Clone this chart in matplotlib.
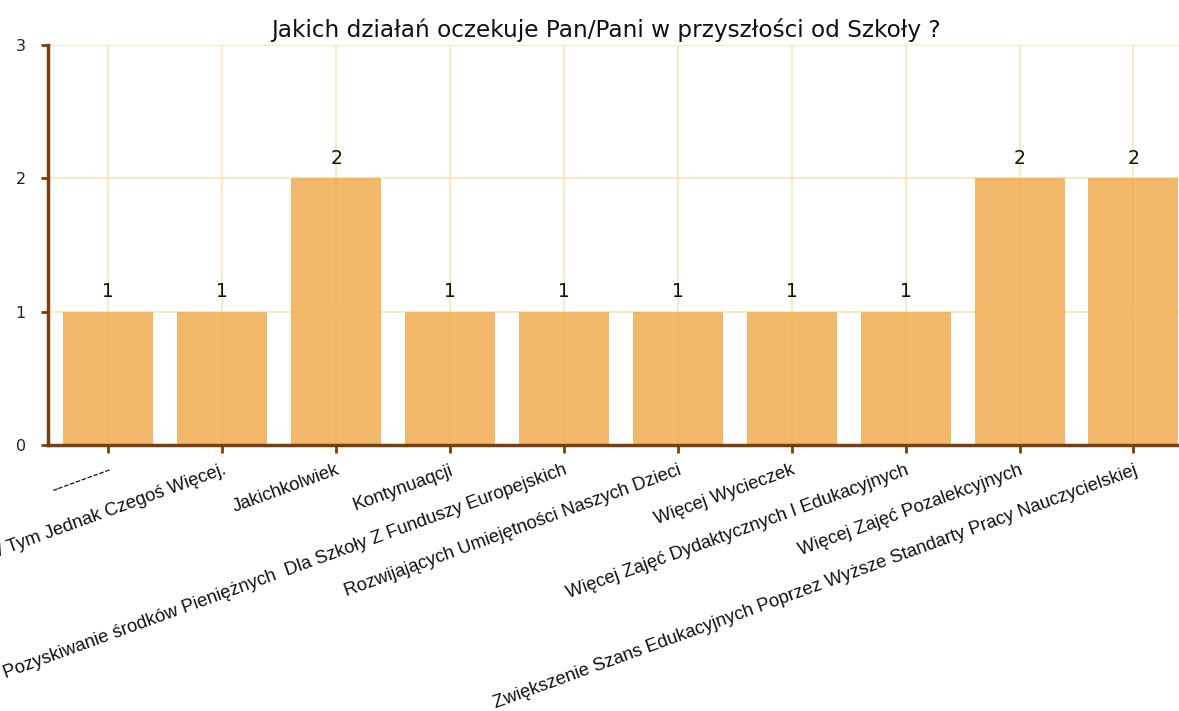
import matplotlib
matplotlib.use("Agg")
import matplotlib.pyplot as plt

categories = [
    "----------",
    "W Tym Jednak Czegoś Więcej.",
    "Jakichkolwiek",
    "Kontynuaqcji",
    "Pozyskiwanie środków Pieniężnych  Dla Szkoły Z Funduszy Europejskich",
    "Rozwijających Umiejętności Naszych Dzieci",
    "Więcej Wycieczek",
    "Więcej Zajęć Dydaktycznych I Edukacyjnych",
    "Więcej Zajęć Pozalekcyjnych",
    "Zwiększenie Szans Edukacyjnych Poprzez Wyższe Standarty Pracy Nauczycielskiej",
]
values = [1, 1, 2, 1, 1, 1, 1, 1, 2, 2]
yticks = [0, 1, 2, 3]
title = "Jakich działań oczekuje Pan/Pani w przyszłości od Szkoły ?"

brown = "#7A3E10"
grid_c = "#F8E4B4"

fig = plt.figure(figsize=(11.79, 7.11), dpi=100)
ax = fig.add_axes([48/1179, 1-445/711, 1-48/1179, (445-45)/711])

x = list(range(len(categories)))
ax.bar(x, values, width=0.79, color="#F0A238", alpha=0.75, zorder=2, linewidth=0)

ax.set_xlim(-0.53, len(categories) - 1 + 0.40)
ax.set_ylim(0, 3)
ax.set_yticks(yticks)
ax.set_yticklabels([str(t) for t in yticks], fontsize=11.5, family="DejaVu Sans", color="#222222")
ax.set_xticks(x)
ax.set_xticklabels(categories, rotation=20, ha="right", va="top", rotation_mode="anchor",
                   fontsize=13.2, family="Liberation Sans", color="#111111")

ax.grid(True, color=grid_c, linewidth=1.2, zorder=1)
ax.set_axisbelow(True)

for s in ["top", "right"]:
    ax.spines[s].set_visible(False)
for s in ["left", "bottom"]:
    ax.spines[s].set_color(brown)
    ax.spines[s].set_linewidth(2.5)

ax.tick_params(axis="y", direction="out", length=5, width=2, color=brown, pad=11)
ax.tick_params(axis="x", direction="out", length=6, width=2, color=brown, pad=6)

for xi, v in zip(x, values):
    ax.text(xi, v + 0.08, str(v), ha="center", va="bottom", fontsize=13.5,
            family="DejaVu Sans", color="#111111")

fig.text(606/1179, 1-30/711, title, ha="center", va="center", fontsize=16.7,
         family="DejaVu Sans", color="#111111")

fig.savefig("out.png", dpi=100)
